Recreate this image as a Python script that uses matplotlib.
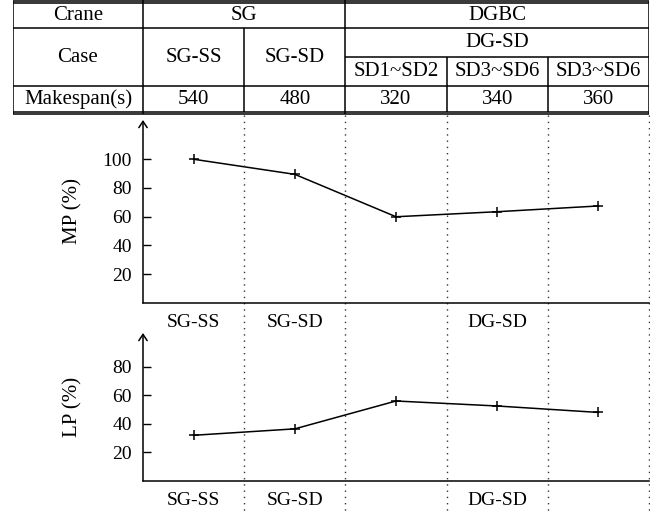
import matplotlib
matplotlib.use("Agg")
import matplotlib.pyplot as plt
from matplotlib.transforms import blended_transform_factory

plt.rcParams['font.family'] = ['Liberation Serif', 'DejaVu Serif']

# ---- data ----
cases = ["SG-SS", "SG-SD", "SD1~SD2", "SD3~SD6", "SD3~SD6"]
x_pos = [1, 2, 3, 4, 5]
makespan = [540, 480, 320, 340, 360]
mp_values = [100, 89.5, 60, 63.5, 67.5]
lp_values = [32, 36.5, 56, 52.5, 48]
group_labels = ["SG-SS", "SG-SD", "DG-SD"]
group_pos = [1, 2, 4]
mp_ticks = [20, 40, 60, 80, 100]
lp_ticks = [20, 40, 60, 80]

W, H = 650, 514
fig = plt.figure(figsize=(W / 100, H / 100), dpi=100)
FS = 14
FT = 15

def fx(px):
    return px / W

def fy(py):
    return 1 - py / H

ax_left, ax_right = 143, 649
ax1 = fig.add_axes([fx(ax_left), fy(303), fx(ax_right - ax_left), (303 - 120) / H])
ax2 = fig.add_axes([fx(ax_left), fy(481), fx(ax_right - ax_left), (481 - 333) / H])

for ax, vals, ticks, ymax, lab in [
    (ax1, mp_values, mp_ticks, 127.3, "MP (%)"),
    (ax2, lp_values, lp_ticks, 103.6, "LP (%)"),
]:
    ax.plot(x_pos, vals, color="black", lw=1.1, marker="+", ms=7, mew=1.1)
    ax.set_xlim(0.5, 5.5)
    ax.set_ylim(0, ymax)
    ax.set_yticks(ticks)
    ax.set_yticklabels([str(t) for t in ticks], fontsize=FS)
    ax.tick_params(axis="y", direction="in", length=6, width=1, pad=8)
    ax.set_xticks(group_pos)
    ax.set_xticklabels(group_labels, fontsize=FS)
    ax.tick_params(axis="x", length=0, pad=8)
    for s in ["top", "right", "left"]:
        ax.spines[s].set_visible(False)
    ax.spines["bottom"].set_linewidth(1.1)
    ax.annotate("", xy=(0, 1), xytext=(0, 0), xycoords="axes fraction",
                arrowprops=dict(arrowstyle="->,head_length=0.45,head_width=0.3",
                                lw=1.1, color="black", shrinkA=0, shrinkB=0))
    ax.set_ylabel(lab, fontsize=FT)
    ax.yaxis.set_label_coords(-0.12, 0.5)
    ax.patch.set_alpha(0)

# dotted separators spanning both plots
tr = blended_transform_factory(ax1.transData, fig.transFigure)
for xb in [1.5, 2.5, 3.5, 4.5, 5.5]:
    ax1.plot([xb, xb], [fy(115), 0], transform=tr, color="#333333", lw=1.0,
             ls=(0, (1, 3.5)), clip_on=False)

# ---- table ----
unit = (ax_right - ax_left) / 5.0
tleft = 13
tax = fig.add_axes([fx(tleft), fy(115), fx(ax_right - tleft), 115 / H])
tax.set_xlim(0.5 - (ax_left - tleft) / unit, 5.5)
tax.set_ylim(115, 0)
tax.axis("off")
x0 = 0.5 - (ax_left - tleft) / unit
lk = dict(color="black", lw=1.1, solid_capstyle="butt")
for yy in [0.6, 3.2, 28, 86, 111.8, 114.4]:
    tax.plot([x0, 5.5], [yy, yy], **lk)
tax.plot([2.5, 5.5], [57, 57], **lk)
tax.plot([x0, x0], [0.6, 114.4], **lk)
tax.plot([5.5, 5.5], [0.6, 114.4], **lk)
tax.plot([0.5, 0.5], [0, 114.4], **lk)
tax.plot([2.5, 2.5], [0, 114.4], **lk)
tax.plot([1.5, 1.5], [28, 111.8], **lk)
tax.plot([3.5, 3.5], [57, 111.8], **lk)
tax.plot([4.5, 4.5], [57, 111.8], **lk)

xc = (x0 + 0.5) / 2
tk = dict(ha="center", va="center", fontsize=FT)
tax.text(xc, 15.5, "Crane", **tk)
tax.text(1.5, 15.5, "SG", **tk)
tax.text(4.0, 15.5, "DGBC", **tk)
tax.text(xc, 57, "Case", **tk)
tax.text(1, 57, cases[0], **tk)
tax.text(2, 57, cases[1], **tk)
tax.text(4.0, 42.5, "DG-SD", **tk)
for i in range(2, 5):
    tax.text(x_pos[i], 71.5, cases[i], **tk)
tax.text(xc, 99, "Makespan(s)", **tk)
for xp, m in zip(x_pos, makespan):
    tax.text(xp, 99, str(m), **tk)

fig.savefig("out.png", dpi=100)
